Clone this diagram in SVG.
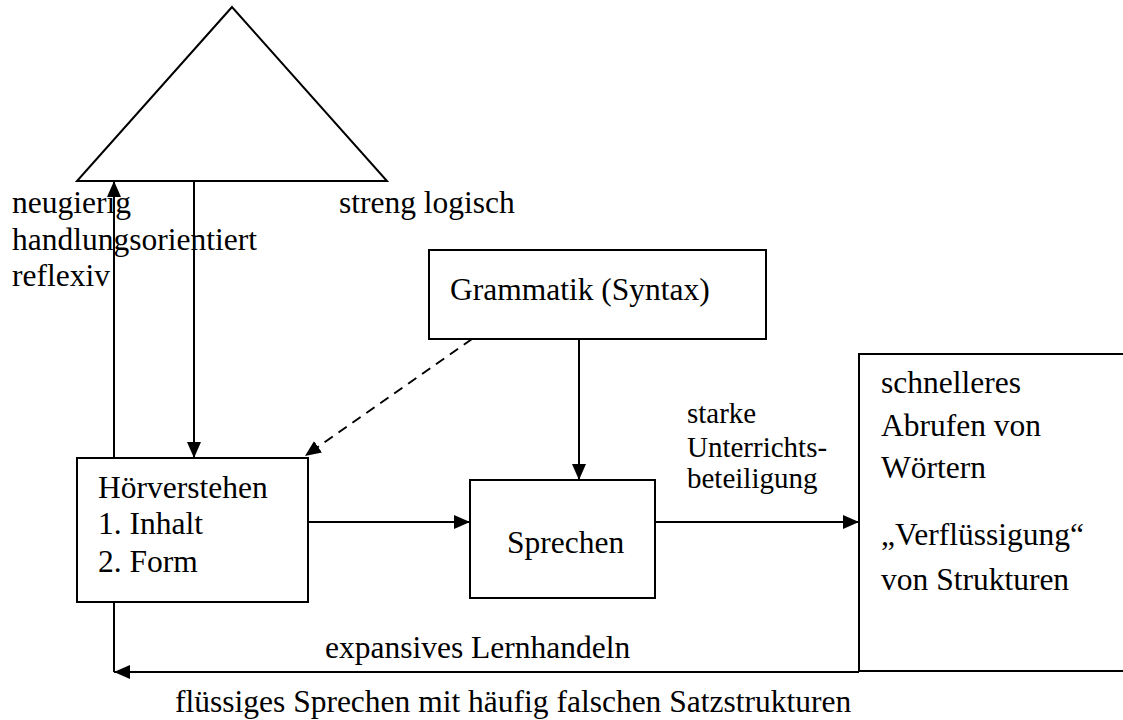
<svg xmlns="http://www.w3.org/2000/svg" width="1123" height="720" viewBox="0 0 1123 720" font-family="'Liberation Serif', 'DejaVu Serif', serif">
  <style>
    text { font-family: "Liberation Serif", "DejaVu Serif", serif; font-size: 31.5px; fill: #000; }
    .small { font-size: 29px; }
    .box { fill: #fff; stroke: #000; stroke-width: 2; }
    .line { fill: none; stroke: #000; stroke-width: 2; }
    .dash { fill: none; stroke: #000; stroke-width: 2; stroke-dasharray: 10 7; }
  </style>
  <defs>
    <marker id="arrow" markerUnits="userSpaceOnUse" markerWidth="16" markerHeight="14" refX="16" refY="7" orient="auto">
      <path d="M0,0 L16,7 L0,14 z" fill="#000"/>
    </marker>
  </defs>
  <rect width="1123" height="720" fill="#fff"/>

  <!-- Triangle with its three attribute labels -->
  <g id="triangle">
    <polygon points="232,7 77,181 387,181" fill="#fff" stroke="#000" stroke-width="2"/>
    <text x="12" y="213">neugierig</text>
    <text x="12" y="250">handlungsorientiert</text>
    <text x="12" y="286">reflexiv</text>
    <text x="339" y="213">streng logisch</text>
  </g>

  <g id="grammatik">
    <rect class="box" x="429" y="250" width="337" height="89"/>
    <text x="450" y="300">Grammatik (Syntax)</text>
  </g>

  <g id="hoerverstehen">
    <rect class="box" x="77" y="458" width="231" height="144"/>
    <text x="98" y="498">Hörverstehen</text>
    <text x="98" y="534">1. Inhalt</text>
    <text x="98" y="572">2. Form</text>
  </g>

  <g id="sprechen">
    <rect class="box" x="470" y="480" width="185" height="118"/>
    <text x="507" y="553">Sprechen</text>
  </g>

  <!-- Open box on the right: no right-hand edge -->
  <g id="ergebnis">
    <path class="line" d="M1123,354 H859 V671 H1123"/>
    <text x="881" y="393">schnelleres</text>
    <text x="881" y="436">Abrufen von</text>
    <text x="881" y="478">Wörtern</text>
    <text x="881" y="545">„Verflüssigung“</text>
    <text x="881" y="590">von Strukturen</text>
  </g>

  <g id="connectors">
    <!-- Hörverstehen up to triangle -->
    <line class="line" x1="114" y1="458" x2="114" y2="181" marker-end="url(#arrow)"/>
    <!-- triangle down to Hörverstehen -->
    <line class="line" x1="194" y1="181" x2="194" y2="458" marker-end="url(#arrow)"/>
    <!-- Grammatik to Hörverstehen (dashed) -->
    <line class="dash" x1="472" y1="339" x2="305" y2="456" marker-end="url(#arrow)"/>
    <!-- Grammatik to Sprechen -->
    <line class="line" x1="579" y1="339" x2="579" y2="480" marker-end="url(#arrow)"/>
    <!-- Hörverstehen to Sprechen -->
    <line class="line" x1="308" y1="522" x2="470" y2="522" marker-end="url(#arrow)"/>
    <!-- Sprechen to result box -->
    <line class="line" x1="655" y1="522" x2="859" y2="522" marker-end="url(#arrow)"/>
    <!-- feedback loop back to Hörverstehen -->
    <line class="line" x1="114" y1="602" x2="114" y2="672"/>
    <line class="line" x1="859" y1="672" x2="114" y2="672" marker-end="url(#arrow)"/>

    <text class="small" x="687" y="423">starke</text>
    <text class="small" x="687" y="457">Unterrichts-</text>
    <text class="small" x="687" y="488">beteiligung</text>
    <text x="325" y="658">expansives Lernhandeln</text>
    <text x="175" y="712">flüssiges Sprechen mit häufig falschen Satzstrukturen</text>
  </g>
</svg>
